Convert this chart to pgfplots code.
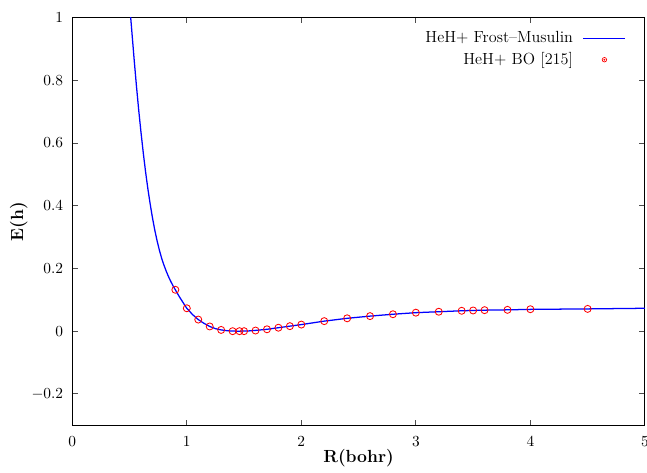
\documentclass[border=0pt]{standalone}
\usepackage{pgfplots}
\pgfplotsset{compat=1.18}
\begin{document}
\begin{tikzpicture}
\begin{axis}[
    scale only axis,
    width=408pt, height=290.5pt,
    xmin=0, xmax=5, ymin=-0.3, ymax=1,
    xtick={0,1,...,5},
    ytick={-0.2,0,0.2,0.4,0.6,0.8,1},
    tick align=inside,
    major tick length=4pt,
    axis line style={line width=0.8pt},
    tick style={line width=0.6pt, black!70},
    tick label style={font=\fontsize{10.5}{12}\selectfont},
    xticklabel style={yshift=-4.5pt},
    yticklabel style={xshift=-3pt},
    xlabel={R(bohr)}, ylabel={E(h)},
    label style={font=\fontsize{12.5}{14}\selectfont\bfseries},
    xlabel style={yshift=5pt},
    ylabel style={yshift=-4pt},
    legend plot pos=right,
    legend cell align=right,
    legend style={draw=none, fill=none, at={(0.975,0.98)}, anchor=north east,
        font=\fontsize{11.5}{13}\selectfont, row sep=1.5pt,
        /tikz/every odd column/.append style={column sep=5pt}},
]
% Frost-Musulin potential curve
\addplot[blue, line width=0.9pt,
    legend image code/.code={\draw[blue, line width=0.9pt] (0pt,0pt) -- (30pt,0pt);}]
coordinates {
(0.49,1.09) (0.50,1.046) (0.51,1.000) (0.52,0.956) (0.54,0.867) (0.56,0.783)
(0.58,0.705) (0.60,0.634) (0.62,0.568) (0.64,0.508) (0.66,0.454) (0.68,0.406)
(0.70,0.362) (0.72,0.323) (0.74,0.289) (0.76,0.259) (0.78,0.233) (0.80,0.211)
(0.82,0.1915) (0.84,0.174) (0.86,0.1585) (0.88,0.1445) (0.90,0.132) (0.92,0.119)
(0.94,0.107) (0.96,0.0955) (0.98,0.084) (1.00,0.073) (1.05,0.053) (1.10,0.037)
(1.15,0.025) (1.20,0.015) (1.25,0.008) (1.30,0.004) (1.35,0.0015) (1.40,0.0003)
(1.45,0.000) (1.50,0.0003) (1.55,0.001) (1.60,0.0025) (1.70,0.006) (1.80,0.011)
(1.90,0.016) (2.00,0.021) (2.10,0.0265) (2.20,0.032) (2.30,0.0365) (2.40,0.041)
(2.50,0.0445) (2.60,0.048) (2.80,0.054) (3.00,0.059) (3.20,0.062) (3.40,0.065)
(3.60,0.067) (3.80,0.068) (4.00,0.0695) (4.50,0.071) (5.00,0.073)
};
\addlegendentry{HeH+ Frost--Musulin}
% Born-Oppenheimer points
\addplot[only marks, mark=o, mark size=2.5pt, red, mark options={line width=0.6pt},
    legend image code/.code={\draw[red, line width=0.5pt] (15pt,0pt) circle (1.6pt); \fill[red] (15pt,0pt) circle (0.4pt);}]
coordinates {
(0.9,0.132) (1.0,0.073) (1.1,0.037) (1.2,0.015) (1.3,0.004) (1.4,0.000)
(1.46,0.000) (1.5,0.000) (1.6,0.002) (1.7,0.006) (1.8,0.011) (1.9,0.016)
(2.0,0.021) (2.2,0.032) (2.4,0.041) (2.6,0.048) (2.8,0.054) (3.0,0.059)
(3.2,0.062) (3.4,0.065) (3.5,0.066) (3.6,0.067) (3.8,0.068) (4.0,0.070)
(4.5,0.071)
};
\addlegendentry{HeH+ BO [215]}
\end{axis}
% page frame as in the original (the "5" label is cut at the right edge)
\pgfresetboundingbox
\path ([xshift=-51.5pt, yshift=-34pt]current axis.south west)
    rectangle ([xshift=1.5pt, yshift=12.5pt]current axis.north east);
\end{tikzpicture}
\end{document}
